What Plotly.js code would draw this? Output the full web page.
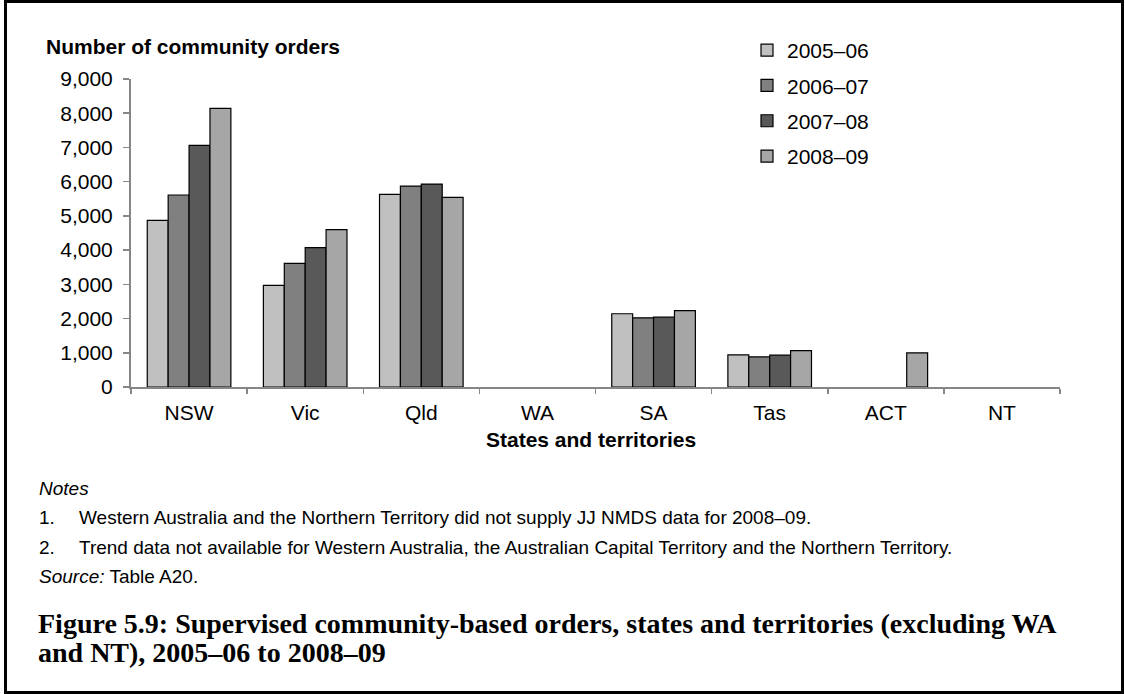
<!DOCTYPE html>
<html>
<head>
<meta charset="utf-8">
<script src="https://cdn.plot.ly/plotly-3.0.1.min.js"></script>
<style>
  html, body { margin: 0; padding: 0; background: #fff; }
  #wrap { position: relative; width: 1125px; height: 694px; overflow: hidden; }
  #chart { position: absolute; left: 0; top: 0; width: 1125px; height: 694px; }
  #frame { position: absolute; left: 4px; top: 0px; width: 1120px; height: 694px; box-sizing: border-box; border: 3px solid #000; pointer-events: none; }
</style>
</head>
<body>
<div id="wrap"><div id="chart"></div><div id="frame"></div></div>
<script>
const categories = ["NSW", "Vic", "Qld", "WA", "SA", "Tas", "ACT", "NT"];
const seriesNames = ["2005\u201306", "2006\u201307", "2007\u201308", "2008\u201309"];
const v2005_06 = [4870, 2970, 5630, null, 2140, 940, null, null];
const v2006_07 = [5610, 3610, 5870, null, 2020, 880, null, null];
const v2007_08 = [7060, 4070, 5930, null, 2040, 930, null, null];
const v2008_09 = [8140, 4600, 5540, null, 2230, 1060, 1000, null];
const seriesValues = [v2005_06, v2006_07, v2007_08, v2008_09];
const seriesColors = ["#C0C0C0", "#808080", "#595959", "#A6A6A6"];
const yTickVals = [0, 1000, 2000, 3000, 4000, 5000, 6000, 7000, 8000, 9000];
const yTickText = ["0", "1,000", "2,000", "3,000", "4,000", "5,000", "6,000", "7,000", "8,000", "9,000"];

const W = 1125, H = 694;
const M = { l: 131, r: 65, t: 79, b: 307 };
const plotW = W - M.l - M.r, plotH = H - M.t - M.b;
function px(x) { return (x - M.l) / plotW; }
function py(y) { return (H - M.b - y) / plotH; }

const traces = seriesValues.map((vals, i) => ({
  type: "bar",
  name: seriesNames[i],
  x: categories,
  y: vals,
  legendgroup: "g" + i,
  marker: { color: seriesColors[i], line: { color: "#000", width: 1.2 } },
  hoverinfo: "x+y+name"
}));

const FONT = "Liberation Sans, Arial, sans-serif";
const SERIF = "Liberation Serif, Times New Roman, serif";

const notesFont = { family: FONT, size: 19, color: "#000" };
const titleFont = { family: SERIF, size: 28, color: "#000" };
const annotations = [
  { text: "<b>Number of community orders</b>", x: px(44), y: py(47), xanchor: "left", yanchor: "middle", font: { family: FONT, size: 21, color: "#000" } },
  { text: "<b>States and territories</b>", x: px(591), y: py(439), xanchor: "center", yanchor: "middle", font: { family: FONT, size: 21, color: "#000" } },
  { text: "<i>Notes</i>", x: px(37), y: py(488), xanchor: "left", yanchor: "middle", font: notesFont },
  { text: "1.", x: px(37), y: py(517), xanchor: "left", yanchor: "middle", font: notesFont },
  { text: "Western Australia and the Northern Territory did not supply JJ NMDS data for 2008\u201309.", x: px(77), y: py(517), xanchor: "left", yanchor: "middle", font: notesFont },
  { text: "2.", x: px(37), y: py(547), xanchor: "left", yanchor: "middle", font: notesFont },
  { text: "Trend data not available for Western Australia, the Australian Capital Territory and the Northern Territory.", x: px(77), y: py(547), xanchor: "left", yanchor: "middle", font: notesFont },
  { text: "<i>Source:</i> Table A20.", x: px(37), y: py(576), xanchor: "left", yanchor: "middle", font: notesFont },
  { text: "<b>Figure 5.9: Supervised community-based orders, states and territories (excluding WA</b>", x: px(36), y: py(623), xanchor: "left", yanchor: "middle", font: titleFont },
  { text: "<b>and NT), 2005\u201306 to 2008\u201309</b>", x: px(36), y: py(652), xanchor: "left", yanchor: "middle", font: titleFont }
].map(a => Object.assign({ xref: "paper", yref: "paper", showarrow: false }, a));

const layout = {
  width: W, height: H,
  margin: M,
  paper_bgcolor: "#fff", plot_bgcolor: "#fff",
  font: { family: FONT, size: 21, color: "#000" },
  barmode: "group",
  bargap: 0.28,
  bargroupgap: 0,
  showlegend: true,
  legend: {
    x: px(747), y: py(30), xanchor: "left", yanchor: "top",
    font: { family: FONT, size: 21, color: "#000" },
    tracegroupgap: 5,
    itemwidth: 30,
    bgcolor: "rgba(0,0,0,0)"
  },
  xaxis: {
    type: "category",
    categoryorder: "array", categoryarray: categories,
    showline: true, linecolor: "#868686", linewidth: 2,
    ticks: "outside", ticklen: 5, tickcolor: "#868686", tickwidth: 1.5,
    tickson: "boundaries",
    showgrid: false, zeroline: false,
    tickfont: { family: FONT, size: 21, color: "#000" },
    ticklabelstandoff: 6
  },
  yaxis: {
    range: [0, 9000],
    tickvals: yTickVals, ticktext: yTickText,
    showline: true, linecolor: "#868686", linewidth: 2,
    ticks: "outside", ticklen: 6, tickcolor: "#868686", tickwidth: 1.5,
    showgrid: false, zeroline: false,
    tickfont: { family: FONT, size: 21, color: "#000" },
    ticklabelstandoff: 6
  },
  annotations: annotations
};

Plotly.newPlot("chart", traces, layout, { displayModeBar: false, staticPlot: true });
</script>
</body>
</html>
